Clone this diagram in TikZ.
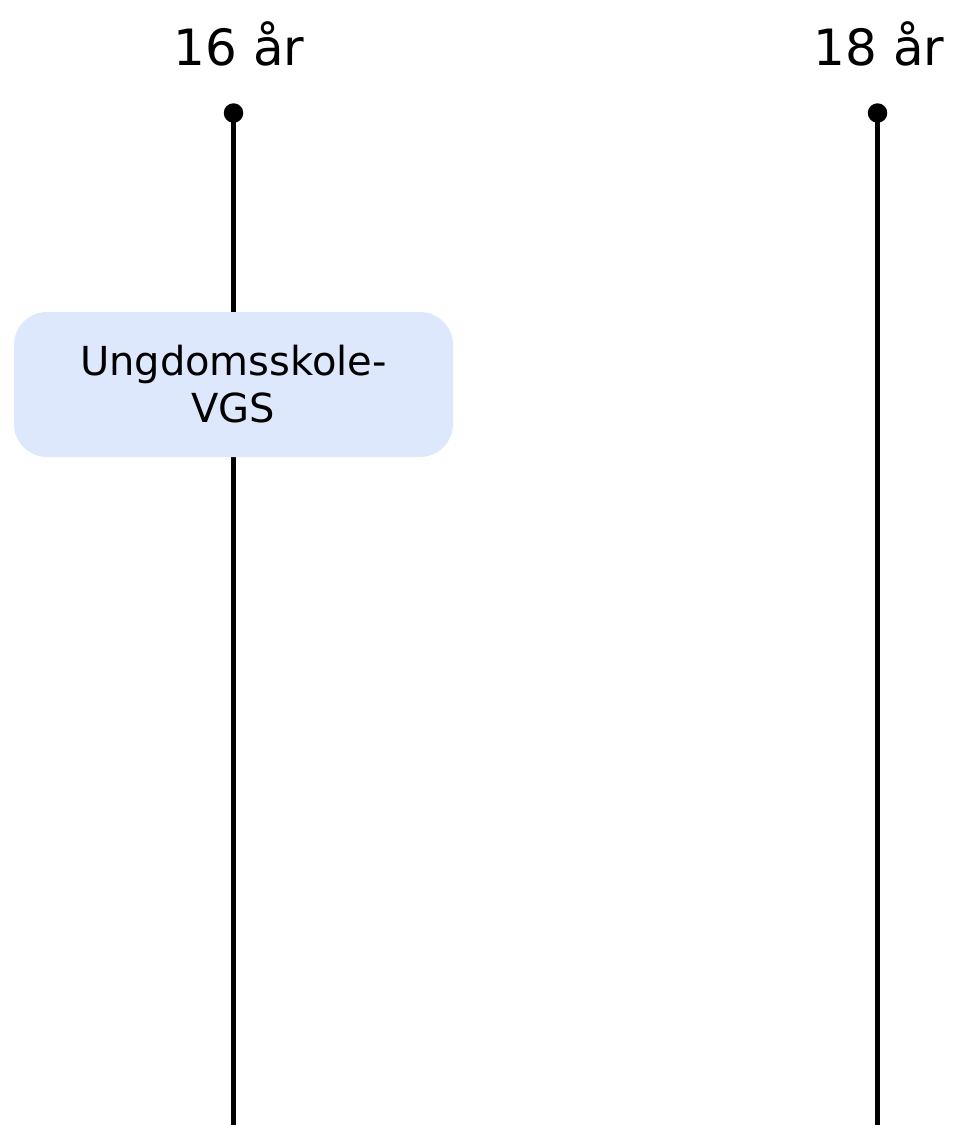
\documentclass[tikz,border=0pt]{standalone}
\usepackage{fontspec}
\setmainfont{DejaVu Sans}
\definecolor{boxblue}{RGB}{222,232,252}
\begin{document}
\begin{tikzpicture}[x=1pt,y=-1pt,
  agelabel/.style={anchor=base,inner sep=0pt,font=\fontsize{50}{60}\selectfont},
  dotnode/.style={circle,fill=black,inner sep=0pt,minimum size=19.5pt},
  timeline/.style={line width=4.6pt},
  stagebox/.style={rectangle,rounded corners=33pt,fill=boxblue,minimum width=439pt,minimum height=145pt,align=center,inner sep=0pt,font=\fontsize{40}{47}\selectfont}]
\useasboundingbox (0,0) rectangle (954,1125);
\node[agelabel] (l16) at (239,65) {16 år};
\node[agelabel] (l18) at (879,65) {18 år};
\node[dotnode] (d16) at (233.5,113) {};
\node[dotnode] (d18) at (877.5,113) {};
\coordinate (e16) at (233.5,1126);
\coordinate (e18) at (877.5,1126);
\draw[timeline] (d16.center) -- (e16);
\draw[timeline] (d18.center) -- (e18);
\node[stagebox] (ung) at (233.5,384.5) {Ungdomsskole-\\VGS};
\end{tikzpicture}
\end{document}
